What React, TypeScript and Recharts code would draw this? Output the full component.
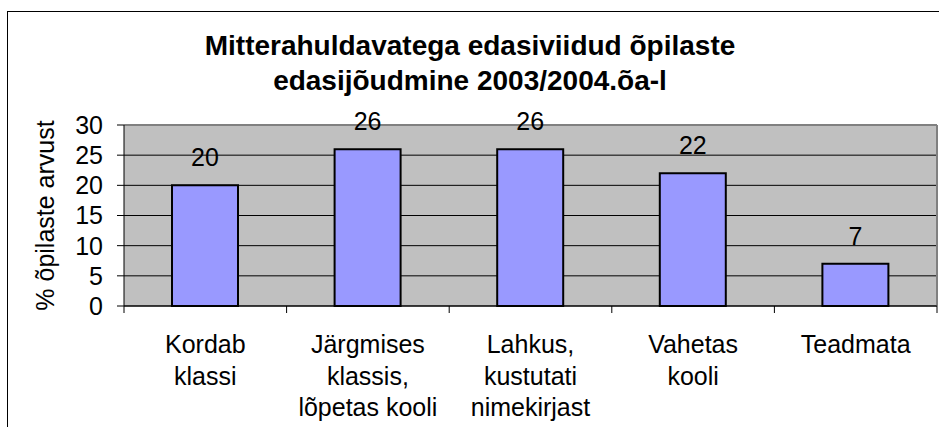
import React from 'react';
import { BarChart, Bar, XAxis, YAxis, CartesianGrid, LabelList, Customized } from 'recharts';

const categories = [
  'Kordab\nklassi',
  'Järgmises\nklassis,\nlõpetas kooli',
  'Lahkus,\nkustutati\nnimekirjast',
  'Vahetas\nkooli',
  'Teadmata',
];
const studentShare = [20, 26, 26, 22, 7];
const yTicks = [0, 5, 10, 15, 20, 25, 30];
const titleLines = ['Mitterahuldavatega edasiviidud õpilaste', 'edasijõudmine 2003/2004.õa-l'];
const yLabel = '% õpilaste arvust';

const data = categories.map((name, i) => ({ name, value: studentShare[i] }));

const W = 939;
const H = 427;
const PLOT = { left: 124, top: 125, right: 937, bottom: 306 };
const FONT = '"Liberation Sans", Arial, sans-serif';

const XTick = (props: any) => {
  const { x, y, payload, index } = props;
  const half = payload.offset || (PLOT.right - PLOT.left) / categories.length / 2;
  const lines = String(payload.value).split('\n');
  return (
    <g>
      <line x1={x - half} x2={x - half} y1={y} y2={y + 7} stroke="#000" />
      {index === categories.length - 1 && (
        <line x1={x + half} x2={x + half} y1={y} y2={y + 7} stroke="#000" />
      )}
      <text x={x} y={y + 47} textAnchor="middle" fontSize={25} fontFamily={FONT} fill="#000">
        {lines.map((l, i) => (
          <tspan key={i} x={x} dy={i === 0 ? 0 : 31.5}>
            {l}
          </tspan>
        ))}
      </text>
    </g>
  );
};

const ValueLabel = (props: any) => {
  const { x, y, width, value } = props;
  return (
    <text x={x + width / 2} y={y - 19} textAnchor="middle" fontSize={25} fontFamily={FONT} fill="#000">
      {value}
    </text>
  );
};

const Decor = () => (
  <g>
    <line x1={PLOT.left} x2={PLOT.right} y1={PLOT.top} y2={PLOT.top} stroke="#808080" strokeWidth={2} />
    <line x1={PLOT.right} x2={PLOT.right} y1={PLOT.top} y2={PLOT.bottom} stroke="#808080" strokeWidth={2} />
    <text textAnchor="middle" fontSize={28} fontWeight="bold" fontFamily={FONT} fill="#000">
      <tspan x={470} y={55}>{titleLines[0]}</tspan>
      <tspan x={470} y={90}>{titleLines[1]}</tspan>
    </text>
    <text
      x={54}
      y={(PLOT.top + PLOT.bottom) / 2}
      transform={`rotate(-90 54 ${(PLOT.top + PLOT.bottom) / 2})`}
      textAnchor="middle"
      fontSize={25}
      fontFamily={FONT}
      fill="#000"
    >
      {yLabel}
    </text>
  </g>
);

export default function App() {
  return (
    <div style={{ position: 'absolute', left: 0, top: 0, width: W, height: H, background: '#fff', overflow: 'hidden' }}>
      <div
        style={{
          position: 'absolute',
          left: 7,
          top: 11,
          width: 1000,
          height: 500,
          border: '1px solid #000',
        }}
      />
      <div style={{ position: 'absolute', left: 0, top: 0 }}>
        <BarChart
          width={W}
          height={H}
          data={data}
          margin={{ top: PLOT.top, right: W - PLOT.right, bottom: H - PLOT.bottom - 110, left: 0 }}
        >
          <CartesianGrid vertical={false} stroke="#000" fill="#C0C0C0" fillOpacity={1} />
          <Customized component={Decor} />
          <XAxis
            dataKey="name"
            height={110}
            axisLine={{ stroke: '#000' }}
            tickLine={false}
            tickSize={0}
            tickMargin={0}
            interval={0}
            tick={<XTick />}
          />
          <YAxis
            width={PLOT.left}
            domain={[0, 30]}
            ticks={yTicks}
            interval={0}
            axisLine={{ stroke: '#000' }}
            tickLine={{ stroke: '#000' }}
            tickSize={7}
            tickMargin={14}
            tick={{ fontSize: 25, fontFamily: FONT, fill: '#000' }}
          />
          <Bar dataKey="value" fill="#9999FF" stroke="#000" strokeWidth={2} barSize={66} isAnimationActive={false}>
            <LabelList dataKey="value" content={<ValueLabel />} />
          </Bar>
        </BarChart>
      </div>
    </div>
  );
}
